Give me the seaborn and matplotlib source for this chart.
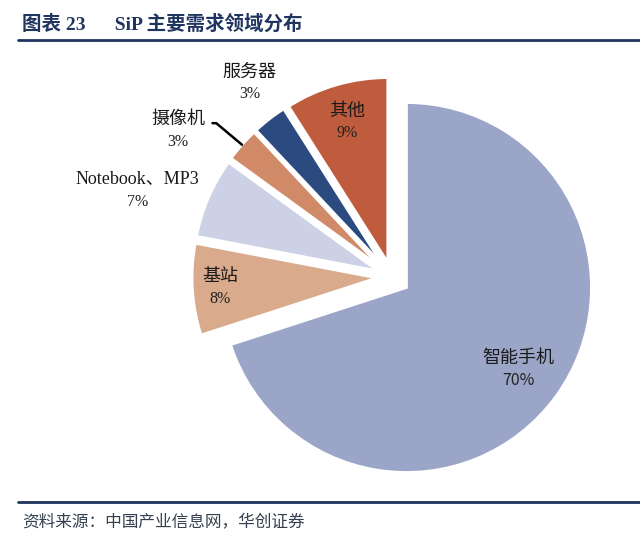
import numpy as np
import matplotlib
matplotlib.use("Agg")
from matplotlib import pyplot as plt
import seaborn as sns

sns.set_theme(style="white")
plt.rcParams["font.family"] = ["Noto Sans CJK SC", "DejaVu Sans"]

##############################################
# data
categories = ["智能手机", "基站", "Notebook、MP3", "摄像机", "服务器", "其他"]
shares = [70, 8, 7, 3, 3, 9]
colors = ["#9AA5C8", "#D9AA8C", "#CDD1E6", "#D08A68", "#2A4A80", "#C05C3E"]

title = "图表 23      SiP 主要需求领域分布"
source = "资料来源：中国产业信息网，华创证券"

##############################################
# layout / style
explode = [0.097, 0.081, 0.081, 0.081, 0.081, 0.081]
label_dist = [0.75, 0.85, 1.37, 1.32, 1.22, 0.79]
label_nudge = [0, 0, 5, 7.5, -1.6, 0]
line_gap = 0.06  # half distance between name and percent rows, data units
serif_cjk = ["Liberation Serif", "Noto Sans CJK SC"]
sans_cjk = ["Noto Sans CJK SC", "DejaVu Sans"]
navy = "#1F3560"

fig = plt.figure(figsize=(6.4, 5.48), dpi=100)
ax = fig.add_axes([0, 0, 1, 1])

wedges, _ = ax.pie(
    shares,
    explode=explode,
    colors=colors,
    startangle=90,
    counterclock=False,
    wedgeprops=dict(edgecolor="white", linewidth=2),
)
ax.set_xlim(-2.119, 1.341)
ax.set_ylim(-1.465, 1.497)
ax.set_aspect("equal")
ax.axis("off")

for i, (w, name, val) in enumerate(zip(wedges, categories, shares)):
    mid = (w.theta1 + w.theta2) / 2
    ang = np.deg2rad(mid + label_nudge[i])
    cx, cy = w.center
    x = cx + label_dist[i] * np.cos(ang)
    y = cy + label_dist[i] * np.sin(ang)
    fam_name = sans_cjk if i == 0 else serif_cjk
    fam_pct = sans_cjk if i == 0 else ["Liberation Serif"]

    arrow = None
    xy = (x, y + line_gap)
    if name == "摄像机":
        # leader line from the label to the outer edge of the wedge
        ra = np.deg2rad(mid)
        xy = (cx + np.cos(ra), cy + np.sin(ra))
        arrow = dict(arrowstyle="-", color="black", lw=1.8,
                     relpos=(1.0, 0.3), shrinkA=3, shrinkB=0,
                     connectionstyle="angle,angleA=0,angleB=-40,rad=0")
    ax.annotate(name, xy=xy, xytext=(x, y + line_gap),
                ha="center", va="center", fontsize=13, family=fam_name,
                color="#1a1a1a", arrowprops=arrow)
    ax.text(x, y - line_gap, f"{val}%", ha="center", va="center",
            fontsize=11.5, family=fam_pct, color="#222222")

# title and source with rules
fig.text(22 / 640, 1 - 24 / 548, title, ha="left", va="center",
         fontsize=14, fontweight="bold", color=navy, family=serif_cjk)
fig.add_artist(plt.Line2D([18 / 640, 1], [1 - 40 / 548] * 2,
                          transform=fig.transFigure, color=navy, lw=2))
fig.add_artist(plt.Line2D([18 / 640, 1], [1 - 502 / 548] * 2,
                          transform=fig.transFigure, color=navy, lw=2))
fig.text(22 / 640, 1 - 522 / 548, source, ha="left", va="center",
         fontsize=12, style="italic", color="#34404F")

fig.savefig("out.png", dpi=100)
